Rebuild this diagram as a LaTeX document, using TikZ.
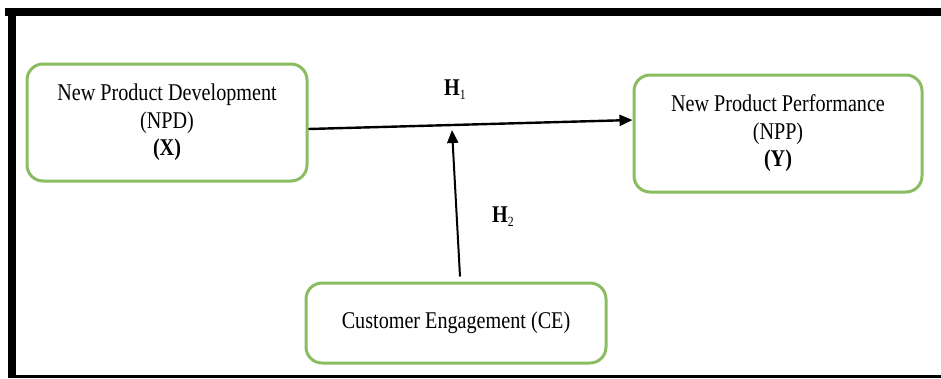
\documentclass[tikz,border=0pt]{standalone}
\usepackage{fontspec}
\setmainfont{Liberation Serif}[FakeStretch=0.84]
\usetikzlibrary{arrows.meta}
\definecolor{boxgreen}{RGB}{138,188,98}
\newcommand{\hsub}[1]{\raisebox{-4pt}{\fontsize{14}{14}\selectfont #1}}
\begin{document}
\begin{tikzpicture}[x=1pt, y=-1pt,
  font=\fontsize{24}{27.5}\selectfont,
  concept/.style={draw=boxgreen, line width=3pt, rounded corners=16pt,
    fill=white, align=center, inner sep=0pt},
  link/.style={draw=black, line width=2.4pt,
    -{Triangle[length=13pt,width=11pt]}},
  hyp/.style={inner sep=0pt}]
  \useasboundingbox (0,0) rectangle (941,378);
  % open frame: top, left and bottom rules
  \fill[black] (5,8) rectangle (941,16);
  \fill[black] (8,8) rectangle (16,378);
  \fill[black] (8,375) rectangle (941,378);

  % constructs
  \node[concept, minimum width=280pt, minimum height=117pt] (npd) at (167,122.5)
    {New Product Development\\(NPD)\\\textbf{(X)}};
  \node[concept, minimum width=288pt, minimum height=117pt] (npp) at (778,133.5)
    {New Product Performance\\(NPP)\\\textbf{(Y)}};
  \node[concept, minimum width=300pt, minimum height=80pt] (ce) at (456,323)
    {Customer Engagement (CE)};

  % hypotheses
  \node[hyp] (h1) at (455,90) {\textbf{H}\hsub{1}};
  \node[hyp] (h2) at (503,217) {\textbf{H}\hsub{2}};

  \coordinate (meet) at (452,130);
  \draw[link] ([yshift=-6.5pt]npd.east) -- ([yshift=13.5pt]npp.west);
  \draw[link, line width=2pt] ([xshift=4pt,yshift=5pt]ce.north) -- (meet);
\end{tikzpicture}
\end{document}
